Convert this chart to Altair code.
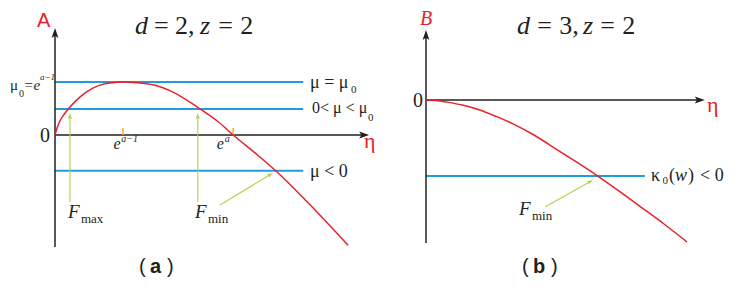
import math
import altair as alt
import pandas as pd

# ---------------- values ----------------
# panel (a): d = 2, z = 2  (eta measured in units of e^(a-1), A in units of mu0)
A_ETA = [0, 0.03, 0.07, 0.14, 0.22, 0.37, 0.55, 0.75, 1.0, 1.25, 1.5, 1.75, 2.1, 2.4, 2.62, 3.0, 3.25, 3.7, 4.31]
A_VAL = [0, 0.13, 0.26, 0.40, 0.53, 0.72, 0.88, 0.97, 1.0, 0.98, 0.93, 0.80, 0.52, 0.25, 0, -0.40, -0.68, -1.25, -2.08]
A_LEVELS = [1.0, 0.49, -0.675]          # mu = mu0, 0 < mu < mu0, mu < 0
A_LEVEL_END = 3.65
A_TICKS = [1.0, 2.62]                   # e^(a-1), e^a
A_TICK_H = 0.132
A_VARROWS = [0.22, 2.10]                # F_max, F_min arrows
A_VARROW_Y = [-1.264, 0.415]
A_DIAG = [2.426, -1.321, 3.206, -0.717]
A_XAXIS_END = 4.62
A_YAXIS = [-2.113, 2.019]

# panel (b): d = 3, z = 2
B_ETA = [0, 0.15, 0.31, 0.55, 0.79, 1.03, 1.28, 1.6, 1.93, 2.2, 2.52, 2.83, 3.15, 3.5, 3.84]
B_VAL = [0, -0.01, -0.04, -0.10, -0.19, -0.31, -0.45, -0.67, -0.94, -1.16, -1.43, -1.71, -2.01, -2.34, -2.68]
B_LEVEL = -1.434                        # kappa0(w) < 0
B_LEVEL_END = 3.22
B_DIAG = [1.75, -2.019, 2.456, -1.509]
B_XAXIS_END = 4.10
B_YAXIS = [-2.698, 1.321]

# ---------------- style / layout ----------------
RED = "#e62129"
BLUE = "#1e9fdb"
GREEN = "#aed24e"
ORANGE = "#f5b21a"
INK = "#231f20"
PXX, PXY = 68.0, 53.0                   # pixels per unit on x / y
H = 283
WA, WB = 372, 348
A_XDOM = [-47 / PXX, 325 / PXX]
A_YDOM = [-156 / PXY, 127 / PXY]
B_XDOM = [-46 / PXX, 302 / PXX]
B_YDOM = [-191 / PXY, 92 / PXY]
HEAD = "M0,0L0.55,1.6L0,1.25L-0.55,1.6Z"


def ax(px):
    return px / PXX


def enc(xd, yd):
    return dict(
        x=alt.X("x:Q", scale=alt.Scale(domain=xd, nice=False, zero=False), axis=None),
        y=alt.Y("y:Q", scale=alt.Scale(domain=yd, nice=False, zero=False), axis=None),
    )


def segs(rows, xd, yd, color, width):
    df = pd.DataFrame(rows, columns=["x", "y", "x2", "y2"])
    return alt.Chart(df).mark_rule(color=color, strokeWidth=width).encode(
        x2="x2:Q", y2="y2:Q", **enc(xd, yd))


def heads(rows, xd, yd, color, size):
    df = pd.DataFrame(rows, columns=["x", "y", "ang"])
    return alt.Chart(df).mark_point(shape=HEAD, filled=True, color=color, opacity=1,
                                    size=size, strokeWidth=0).encode(
        angle=alt.Angle("ang:Q", scale=None), **enc(xd, yd))


def arrow(x0, y0, x1, y1, back_px):
    dxp, dyp = (x1 - x0) * PXX, (y1 - y0) * PXY
    L = math.hypot(dxp, dyp)
    ang = math.degrees(math.atan2(dxp, dyp)) % 360
    ex = x1 - (dxp / L) * back_px / PXX
    ey = y1 - (dyp / L) * back_px / PXY
    return (x0, y0, ex, ey), (x1, y1, ang)


def texts(rows, xd, yd, **style):
    df = pd.DataFrame(rows, columns=["t", "x", "y", "s", "c"])
    return alt.Chart(df).mark_text(align="left", baseline="alphabetic", **style).encode(
        text="t:N", size=alt.Size("s:Q", scale=None), color=alt.Color("c:N", scale=None),
        **enc(xd, yd))


def curve(etas, vals, xd, yd):
    df = pd.DataFrame({"x": etas, "y": vals, "o": range(len(etas))})
    return alt.Chart(df).mark_line(color=RED, strokeWidth=1.5, interpolate="monotone").encode(
        order="o:Q", **enc(xd, yd))


SERIF = "Liberation Serif"
SANS = "Liberation Sans"
TS = 26  # title size

# ---------------- panel (a) ----------------
xd, yd = A_XDOM, A_YDOM
a_axes = segs([(0, A_YAXIS[0], 0, A_YAXIS[1] - 5 / PXY),
               (0, 0, A_XAXIS_END - 5 / PXX, 0)], xd, yd, INK, 1.5)
a_axheads = heads([(0, A_YAXIS[1], 0), (A_XAXIS_END, 0, 90)], xd, yd, INK, 156)
a_levels = segs([(0, v, A_LEVEL_END, v) for v in A_LEVELS], xd, yd, BLUE, 2)
a_ticks = segs([(t, 0, t, A_TICK_H) for t in A_TICKS], xd, yd, ORANGE, 1.5)
a_ar = [arrow(e, A_VARROW_Y[0], e, A_VARROW_Y[1], 4) for e in A_VARROWS]
a_ar.append(arrow(*A_DIAG, 4))
a_gsegs = segs([r[0] for r in a_ar], xd, yd, GREEN, 1.1)
a_gheads = heads([r[1] for r in a_ar], xd, yd, GREEN, 60)

TA = 1.906  # title baseline (panel a units)
a_up = texts([
    ("=", ax(154 - 55), TA, TS, INK), ("2,", ax(175 - 55), TA, TS, INK),
    ("=", ax(218.3 - 55), TA, TS, INK), ("2", ax(240.3 - 55), TA, TS, INK),
    ("μ", ax(10 - 55), 0.849, 15, INK), ("0", ax(19 - 55), 0.717, 10, INK),
    ("=", ax(24.5 - 55), 0.849, 15, INK),
    ("μ = μ", 3.75, 0.887, 18, INK), ("0", 4.353, 0.792, 11, INK),
    ("0< μ < μ", ax(312 - 55), 0.415, 16, INK), ("0", ax(368 - 55), 0.264, 11, INK),
    ("0", -0.221, -0.132, 20, INK),
    ("μ < 0", 3.75, -0.792, 18, INK),
    ("max", 0.382, -1.66, 13, INK), ("min", 2.25, -1.66, 13, INK),
    ("η", 4.544, -0.245, 22, RED),
], xd, yd, font=SERIF)
a_it = texts([
    ("d", ax(135 - 55), TA, TS, INK), ("z", ax(200 - 55), TA, TS, INK),
    ("e", ax(33.5 - 55), 0.849, 15, INK), ("a−1", ax(40 - 55), 1.038, 9, INK),
    ("e", 0.86, -0.264, 16, INK), ("a−1", 0.975, -0.14, 10, INK),
    ("e", 2.38, -0.264, 16, INK), ("a", 2.495, -0.14, 10, INK),
    ("F", 0.191, -1.566, 19, INK), ("F", 2.059, -1.566, 19, INK),
], xd, yd, font=SERIF, fontStyle="italic")
a_sans = texts([
    ("A", -0.265, 2.04, 20, RED),
    ("(", 1.235, -2.604, 20, INK), (")", 1.647, -2.604, 20, INK),
], xd, yd, font=SANS)
a_bold = texts([("a", 1.397, -2.604, 20, INK)], xd, yd, font=SANS, fontWeight="bold")

panel_a = alt.layer(
    a_levels, a_axes, a_axheads, a_ticks, curve(A_ETA, A_VAL, xd, yd),
    a_gsegs, a_gheads, a_up, a_it, a_sans, a_bold,
).properties(width=WA, height=H)

# ---------------- panel (b) ----------------
xd, yd = B_XDOM, B_YDOM
b_axes = segs([(0, B_YAXIS[0], 0, B_YAXIS[1] - 5 / PXY),
               (0, 0, B_XAXIS_END - 5 / PXX, 0)], xd, yd, INK, 1.5)
b_axheads = heads([(0, B_YAXIS[1], 0), (B_XAXIS_END, 0, 90)], xd, yd, INK, 156)
b_levels = segs([(0, B_LEVEL, B_LEVEL_END, B_LEVEL)], xd, yd, BLUE, 2)
b_ar = [arrow(*B_DIAG, 4)]
b_gsegs = segs([r[0] for r in b_ar], xd, yd, GREEN, 1.1)
b_gheads = heads([r[1] for r in b_ar], xd, yd, GREEN, 60)

TB = 1.245  # title baseline (panel b units)
b_up = texts([
    ("=", ax(537.3 - 426), TB, TS, INK), ("3,", ax(559.3 - 426), TB, TS, INK),
    ("=", ax(600.3 - 426), TB, TS, INK), ("2", ax(622.3 - 426), TB, TS, INK),
    ("0", -0.191, -0.132, 20, INK),
    ("κ", ax(651 - 426), -1.528, 18, INK), ("0", ax(662.5 - 426), -1.585, 11, INK),
    ("(", ax(669 - 426), -1.528, 18, INK), (")", ax(688 - 426), -1.528, 18, INK),
    ("< 0", ax(700 - 426), -1.528, 18, INK),
    ("min", 1.559, -2.264, 13, INK),
    ("η", 4.132, -0.226, 22, RED),
], xd, yd, font=SERIF)
b_it = texts([
    ("d", ax(517 - 426), TB, TS, INK), ("z", ax(583 - 426), TB, TS, INK),
    ("B", -0.088, 1.415, 20, RED),
    ("w", ax(675 - 426), -1.528, 18, INK),
    ("F", 1.368, -2.17, 19, INK),
], xd, yd, font=SERIF, fontStyle="italic")
b_sans = texts([
    ("(", 1.412, -3.264, 20, INK), (")", 1.838, -3.264, 20, INK),
], xd, yd, font=SANS)
b_bold = texts([("b", 1.574, -3.264, 20, INK)], xd, yd, font=SANS, fontWeight="bold")

panel_b = alt.layer(
    b_levels, b_axes, b_axheads, curve(B_ETA, B_VAL, xd, yd),
    b_gsegs, b_gheads, b_up, b_it, b_sans, b_bold,
).properties(width=WB, height=H)

chart = alt.hconcat(panel_a, panel_b, spacing=0).properties(
    padding=0, background="white"
).configure_view(stroke=None)

chart.save("out.html", embed_options={"renderer": "svg", "actions": False})
